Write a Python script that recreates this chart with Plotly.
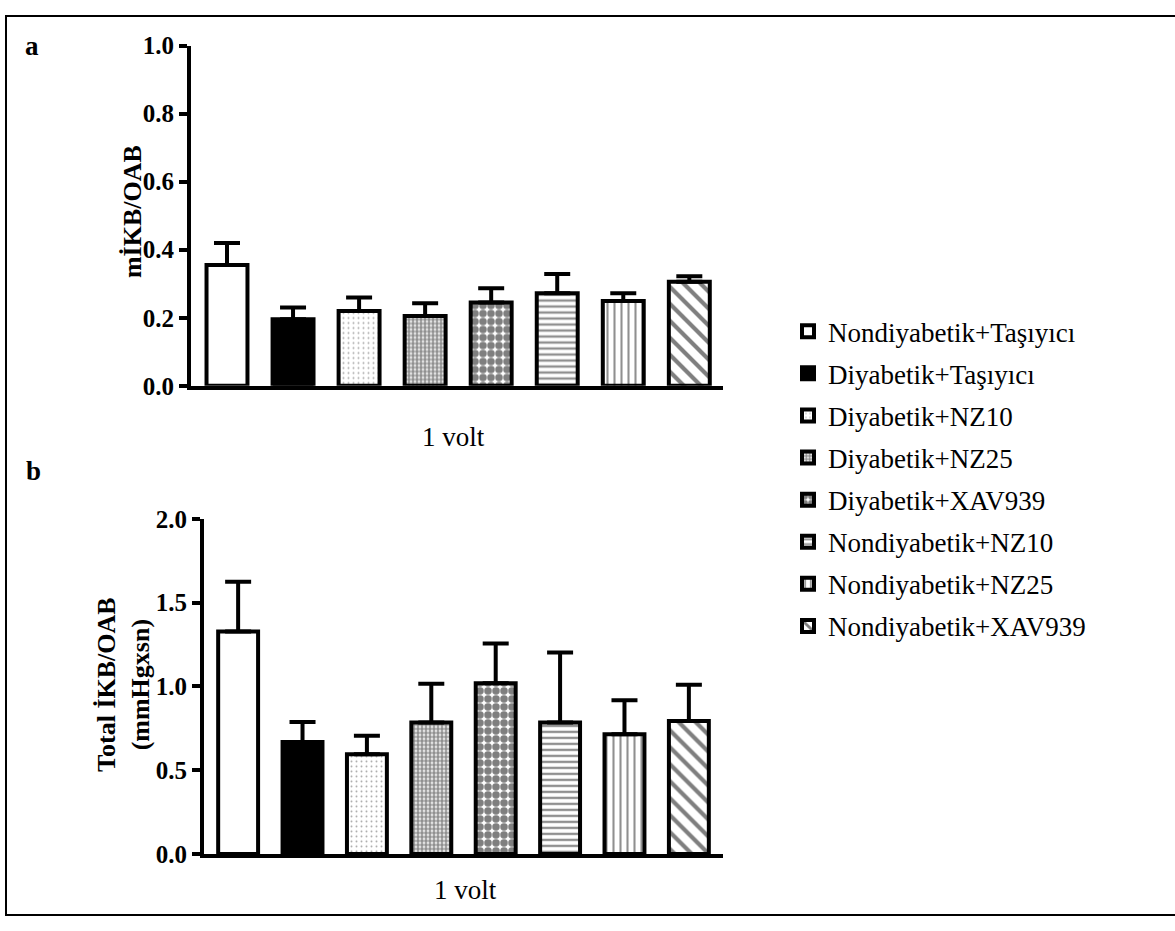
import plotly.graph_objects as go

# ---------------- data ----------------
groups = ["Nondiyabetik+Taşıyıcı", "Diyabetik+Taşıyıcı", "Diyabetik+NZ10", "Diyabetik+NZ25",
          "Diyabetik+XAV939", "Nondiyabetik+NZ10", "Nondiyabetik+NZ25", "Nondiyabetik+XAV939"]
a_mean = [0.355, 0.196, 0.220, 0.205, 0.245, 0.272, 0.249, 0.306]
a_sem = [0.065, 0.034, 0.040, 0.038, 0.042, 0.057, 0.023, 0.016]
b_mean = [1.328, 0.668, 0.595, 0.784, 1.018, 0.784, 0.714, 0.794]
b_sem = [0.296, 0.120, 0.110, 0.232, 0.238, 0.419, 0.203, 0.216]
a_ticks = [0.0, 0.2, 0.4, 0.6, 0.8, 1.0]
b_ticks = [0.0, 0.5, 1.0, 1.5, 2.0]
x_label = "1 volt"
a_ytitle = "mİKB/OAB"
b_ytitle = "Total İKB/OAB<br>(mmHgxsn)"
panel_labels = ["a", "b"]

# ---------------- styles ----------------
fills = ["white", "black", "white", "white", "white", "white", "white", "white"]
patterns = [
    dict(shape=""),
    dict(shape=""),
    dict(shape=".", size=5, solidity=0.12, fgcolor="#555555", bgcolor="white"),
    dict(shape=".", size=4, solidity=0.7, fgcolor="#222222", bgcolor="white"),
    dict(shape=".", size=8, solidity=0.7, fgcolor="black", bgcolor="white"),
    dict(shape="-", size=6, solidity=0.4, fgcolor="#222222", bgcolor="white"),
    dict(shape="|", size=7, solidity=0.3, fgcolor="#222222", bgcolor="white"),
    dict(shape="\\", size=12, solidity=0.35, fgcolor="black", bgcolor="white"),
]

W, H = 1175, 931
def fx(p):
    return p / W
def fy(p):
    return 1 - p / H

SERIF = "Liberation Serif, Times New Roman, serif"
fig = go.Figure()

for panel, (means, sems, xa, ya) in enumerate([(a_mean, a_sem, "x", "y"), (b_mean, b_sem, "x2", "y2")]):
    for i, g in enumerate(groups):
        fig.add_trace(go.Bar(
            x=[i], y=[means[i]], width=0.62, name=g, legendgroup=g,
            showlegend=(panel == 0), xaxis=xa, yaxis=ya,
            marker=dict(color=fills[i], line=dict(color="black", width=4), pattern=patterns[i]),
            error_y=dict(type="data", array=[sems[i]], arrayminus=[0], symmetric=False,
                         color="black", thickness=4, width=13),
            hoverinfo="skip",
        ))

xcommon = dict(showticklabels=False, ticks="", showgrid=False, zeroline=False,
               showline=True, linewidth=4, linecolor="black")
ycommon = dict(tickformat=".1f", ticks="outside", ticklen=8, tickwidth=4, tickcolor="black",
               showline=True, linewidth=4, linecolor="black", showgrid=False, zeroline=False,
               tickfont=dict(family=SERIF, size=25, color="black", weight="bold"))

fig.update_layout(
    width=W, height=H, margin=dict(l=0, r=0, t=0, b=0, pad=0),
    paper_bgcolor="white", plot_bgcolor="white", barmode="overlay",
    xaxis=dict(domain=[fx(191), fx(723)], range=[-0.545, 7.51], anchor="y", **xcommon),
    yaxis=dict(domain=[fy(384), fy(33.5)], range=[0, 1.0], tickvals=a_ticks, anchor="x", **ycommon),
    xaxis2=dict(domain=[fx(204), fx(723)], range=[-0.53, 7.53], anchor="y2", **xcommon),
    yaxis2=dict(domain=[fy(866), fy(521)], range=[0, 2.0], tickvals=b_ticks, anchor="x2", **ycommon),
    legend=dict(x=fx(788), y=fy(303), xanchor="left", yanchor="top",
                font=dict(family=SERIF, size=27, color="black"),
                bgcolor="rgba(0,0,0,0)", tracegroupgap=4, traceorder="grouped"),
    showlegend=True,
)

ann = [
    dict(text=panel_labels[0], x=fx(32), y=fy(34), size=27, bold=True, angle=0),
    dict(text=panel_labels[1], x=fx(33), y=fy(472), size=27, bold=True, angle=0),
    dict(text=a_ytitle, x=fx(132), y=fy(205), size=26, bold=True, angle=-90),
    dict(text=b_ytitle, x=fx(124), y=fy(692), size=26, bold=True, angle=-90),
    dict(text=x_label, x=fx(453), y=fy(437), size=27, bold=False, angle=0),
    dict(text=x_label, x=fx(465), y=fy(903), size=27, bold=False, angle=0),
]
for a in ann:
    fig.add_annotation(text=a["text"], x=a["x"], y=a["y"], xref="paper", yref="paper",
                       xanchor="center", yanchor="middle", showarrow=False, textangle=a["angle"],
                       font=dict(family=SERIF, size=a["size"], color="black",
                                 weight="bold" if a["bold"] else "normal"))

fig.add_shape(type="rect", xref="paper", yref="paper", x0=fx(6), x1=fx(1185), y0=fy(929), y1=fy(3),
              line=dict(color="black", width=2), fillcolor="rgba(0,0,0,0)", layer="below")

fig.write_html("out.html", config={"displayModeBar": False},
               post_script="document.body.style.margin='0';")
